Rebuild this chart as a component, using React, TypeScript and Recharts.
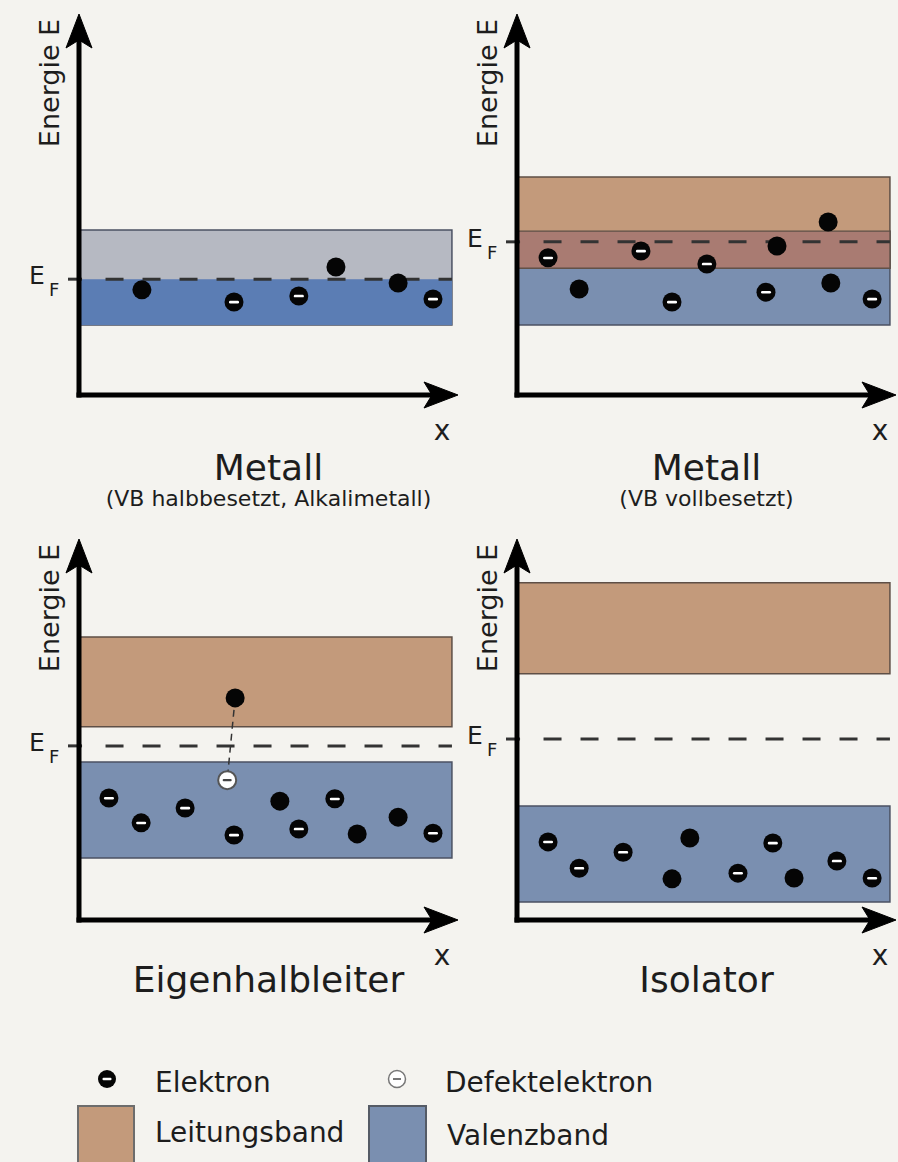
import React from "react";
import {
  ReferenceArea,
  ReferenceLine,
  Scatter,
  ScatterChart,
  XAxis,
  YAxis,
} from "recharts";

type Particle = { x: number; e: number };
type Band = [number, number];

const FONT = '"DejaVu Sans", "Liberation Sans", sans-serif';
const INK = "#1d1d1d";
const PAGE_BG = "#f4f3ef";

const CB_FILL = "#c39a7b";
const VB_FILL = "#7a8fb0";
const VB_FILLED = "#5b7db4";
const VB_EMPTY = "#b6b9c2";
const OVERLAP_FILL = "#a97b72";

// x = Ort (0..10), e = Energie (0..10, willkürliche Einheiten)
const panelTitles = ["Metall", "Metall", "Eigenhalbleiter", "Isolator"];
const panelNotes = ["(VB halbbesetzt, Alkalimetall)", "(VB vollbesetzt)", "", ""];
const fermiLevels = [3.04, 4.02, 4.57, 4.75];
const valenceBands: Band[] = [
  [1.84, 4.33],
  [1.84, 4.3],
  [1.63, 4.15],
  [0.47, 2.99],
];
const conductionBands: (Band | null)[] = [null, [3.33, 5.72], [5.07, 7.43], [6.46, 8.85]];
const bandLength = 9.84;

// electrons drawn with their minus sign
const signedElectrons: Particle[][] = [
  [
    { x: 4.09, e: 2.44 },
    { x: 5.8, e: 2.6 },
    { x: 9.34, e: 2.52 },
  ],
  [
    { x: 0.82, e: 3.6 },
    { x: 3.27, e: 3.78 },
    { x: 4.09, e: 2.44 },
    { x: 5.01, e: 3.44 },
    { x: 6.57, e: 2.7 },
    { x: 9.37, e: 2.52 },
  ],
  [
    { x: 0.79, e: 3.2 },
    { x: 1.64, e: 2.55 },
    { x: 2.8, e: 2.94 },
    { x: 4.09, e: 2.23 },
    { x: 5.8, e: 2.39 },
    { x: 6.75, e: 3.18 },
    { x: 9.34, e: 2.28 },
  ],
  [
    { x: 0.82, e: 2.05 },
    { x: 1.64, e: 1.36 },
    { x: 2.8, e: 1.78 },
    { x: 5.83, e: 1.23 },
    { x: 6.75, e: 2.02 },
    { x: 8.44, e: 1.55 },
    { x: 9.37, e: 1.1 },
  ],
];

// electrons that show up as plain black dots
const plainElectrons: Particle[][] = [
  [
    { x: 1.66, e: 2.76 },
    { x: 6.78, e: 3.36 },
    { x: 8.42, e: 2.94 },
  ],
  [
    { x: 1.64, e: 2.78 },
    { x: 6.86, e: 3.91 },
    { x: 8.21, e: 4.54 },
    { x: 8.28, e: 2.94 },
  ],
  [
    { x: 4.12, e: 5.83 },
    { x: 5.3, e: 3.12 },
    { x: 7.34, e: 2.26 },
    { x: 8.42, e: 2.7 },
  ],
  [
    { x: 4.09, e: 1.08 },
    { x: 4.56, e: 2.15 },
    { x: 7.31, e: 1.1 },
  ],
];

// Eigenhalbleiter: thermisch angeregtes Elektron und zurückbleibendes Loch
const excitedElectron: Particle = { x: 4.12, e: 5.83 };
const holes: Particle[][] = [[], [], [{ x: 3.91, e: 3.67 }], []];

const PLOT_W = 379;
const PLOT_H = 381;
const CHART_W = 460;
const CHART_H = 520;
const MARGIN = {
  top: 14,
  left: 79,
  right: CHART_W - 79 - PLOT_W,
  bottom: CHART_H - 14 - PLOT_H,
};
const panelSpots = [
  { left: 0, top: 0 },
  { left: 438, top: 0 },
  { left: 0, top: 525 },
  { left: 438, top: 525 },
];

function AxisArrow(props: any) {
  const { x1, y1, x2, y2 } = props;
  const dx = x2 - x1;
  const dy = y2 - y1;
  const len = Math.hypot(dx, dy) || 1;
  const ux = dx / len;
  const uy = dy / len;
  const nx = -uy;
  const ny = ux;
  const L = 34;
  const W = 13;
  const notch = 8;
  const bx = x2 - ux * L;
  const by = y2 - uy * L;
  const mx = x2 - ux * (L - notch);
  const my = y2 - uy * (L - notch);
  const head = `M${x2},${y2} L${bx + nx * W},${by + ny * W} L${mx},${my} L${bx - nx * W},${by - ny * W} Z`;
  return (
    <g>
      <line x1={x1} y1={y1} x2={mx} y2={my} stroke="#000" strokeWidth={5} strokeLinecap="square" />
      <path d={head} fill="#000" stroke="#000" strokeWidth={1} strokeLinejoin="round" />
    </g>
  );
}

const electronShape = (signed: boolean) => (p: any) => (
  <g>
    <circle cx={p.cx} cy={p.cy} r={9.5} fill="#050505" />
    {signed && (
      <rect x={p.cx - 5} y={p.cy - 1.2} width={10} height={2.6} rx={1.2} fill="#fff" />
    )}
  </g>
);

const holeShape = (p: any) => (
  <g>
    <circle cx={p.cx} cy={p.cy} r={9} fill="#fff" stroke="#555" strokeWidth={2} />
    <rect x={p.cx - 4.5} y={p.cy - 1.2} width={9} height={2.4} rx={1} fill="#444" />
  </g>
);

const energyLabel = (p: any) => {
  const vb = p.viewBox ?? {};
  return (
    <text
      transform={`translate(${vb.x - 20},${vb.y + 69}) rotate(-90)`}
      textAnchor="middle"
      fontSize={27}
      fontFamily={FONT}
      fill={INK}
    >
      Energie E
    </text>
  );
};

const fermiLabel = (p: any) => {
  const vb = p.viewBox ?? {};
  return (
    <g fontFamily={FONT} fill={INK}>
      <text x={vb.x - 39} y={vb.y + 5} fontSize={25}>
        E
      </text>
      <text x={vb.x - 19} y={vb.y + 17} fontSize={18}>
        F
      </text>
    </g>
  );
};

const xAxisLabel = (title: string, note: string) => (p: any) => {
  const vb = p.viewBox ?? {};
  const center = vb.x + vb.width / 2;
  const tip = vb.x + vb.width;
  return (
    <g fontFamily={FONT} fill={INK} textAnchor="middle">
      <text x={tip - 16} y={vb.y + 45} fontSize={28}>
        x
      </text>
      <text x={center} y={vb.y + (note ? 85 : 72)} fontSize={36}>
        {title}
      </text>
      {note && (
        <text x={center} y={vb.y + 111} fontSize={22}>
          {note}
        </text>
      )}
    </g>
  );
};

function BandPanel({ index }: { index: number }) {
  const vb = valenceBands[index];
  const cb = conductionBands[index];
  const fermi = fermiLevels[index];
  const halfFilled = cb === null;
  const overlap: Band | null =
    cb && Math.max(vb[0], cb[0]) < Math.min(vb[1], cb[1])
      ? [Math.max(vb[0], cb[0]), Math.min(vb[1], cb[1])]
      : null;
  const spot = panelSpots[index];

  return (
    <div style={{ position: "absolute", left: spot.left, top: spot.top }}>
      <ScatterChart width={CHART_W} height={CHART_H} margin={MARGIN}>
        <XAxis type="number" dataKey="x" domain={[0, 10]} hide />
        <YAxis type="number" dataKey="e" domain={[0, 10]} hide />

        <ReferenceArea
          x1={0}
          x2={bandLength}
          y1={vb[0]}
          y2={vb[1]}
          fill={halfFilled ? VB_EMPTY : VB_FILL}
          fillOpacity={1}
          stroke="#4b5263"
          strokeWidth={1.5}
          ifOverflow="visible"
        />
        {halfFilled && (
          <ReferenceArea
            x1={0}
            x2={bandLength}
            y1={vb[0]}
            y2={fermi}
            fill={VB_FILLED}
            fillOpacity={1}
            stroke="none"
            ifOverflow="visible"
          />
        )}
        {cb && (
          <ReferenceArea
            x1={0}
            x2={bandLength}
            y1={cb[0]}
            y2={cb[1]}
            fill={CB_FILL}
            fillOpacity={1}
            stroke="#5e4f46"
            strokeWidth={1.5}
            ifOverflow="visible"
          />
        )}
        {overlap && (
          <ReferenceArea
            x1={0}
            x2={bandLength}
            y1={overlap[0]}
            y2={overlap[1]}
            fill={OVERLAP_FILL}
            fillOpacity={1}
            stroke="#5e4f46"
            strokeWidth={1.2}
            ifOverflow="visible"
          />
        )}

        <ReferenceLine
          segment={[
            { x: -0.29, y: fermi },
            { x: 0.08, y: fermi },
          ]}
          stroke="#333"
          strokeWidth={3}
          ifOverflow="visible"
          label={fermiLabel}
        />
        <ReferenceLine
          segment={[
            { x: 0.7, y: fermi },
            { x: bandLength, y: fermi },
          ]}
          stroke="#333"
          strokeWidth={3}
          strokeDasharray="18 19"
          ifOverflow="visible"
        />

        {holes[index].length > 0 && (
          <ReferenceLine
            segment={[
              { x: excitedElectron.x, y: excitedElectron.e },
              { x: holes[index][0].x, y: holes[index][0].e },
            ]}
            stroke="#333"
            strokeWidth={1.5}
            strokeDasharray="7 5"
            ifOverflow="visible"
          />
        )}

        <ReferenceLine
          segment={[
            { x: 0, y: 0 },
            { x: 0, y: 10 },
          ]}
          shape={AxisArrow}
          ifOverflow="visible"
          label={energyLabel}
        />
        <ReferenceLine
          segment={[
            { x: 0, y: 0 },
            { x: 10, y: 0 },
          ]}
          shape={AxisArrow}
          ifOverflow="visible"
          label={xAxisLabel(panelTitles[index], panelNotes[index])}
        />

        <Scatter
          name="Elektron"
          data={signedElectrons[index]}
          shape={electronShape(true)}
          isAnimationActive={false}
        />
        <Scatter
          name="Elektron (ohne Vorzeichen)"
          data={plainElectrons[index]}
          shape={electronShape(false)}
          isAnimationActive={false}
        />
        <Scatter
          name="Defektelektron"
          data={holes[index]}
          shape={holeShape}
          isAnimationActive={false}
        />
      </ScatterChart>
    </div>
  );
}

function BandLegend() {
  return (
    <svg
      width={898}
      height={122}
      style={{ position: "absolute", left: 0, top: 1040 }}
      fontFamily={FONT}
      fill={INK}
    >
      <circle cx={107} cy={39} r={9} fill="#050505" />
      <rect x={102.5} y={37.8} width={9} height={2.4} rx={1} fill="#fff" />
      <text x={155} y={52} fontSize={28}>
        Elektron
      </text>

      <circle cx={397} cy={39} r={8.5} fill="#fff" stroke="#777" strokeWidth={1.5} />
      <rect x={393} y={38} width={8} height={2} fill="#777" />
      <text x={445} y={52} fontSize={28}>
        Defektelektron
      </text>

      <rect x={78} y={66} width={56} height={70} fill={CB_FILL} stroke="#6d6d6d" strokeWidth={2} />
      <text x={155} y={102} fontSize={28}>
        Leitungsband
      </text>

      <rect x={369} y={66} width={57} height={70} fill={VB_FILL} stroke="#555b66" strokeWidth={2} />
      <text x={447} y={105} fontSize={28}>
        Valenzband
      </text>
    </svg>
  );
}

export default function App() {
  return (
    <div
      style={{
        position: "absolute",
        left: 0,
        top: 0,
        width: 898,
        height: 1162,
        background: PAGE_BG,
        overflow: "hidden",
      }}
    >
      {[0, 1, 2, 3].map((i) => (
        <BandPanel key={i} index={i} />
      ))}
      <BandLegend />
    </div>
  );
}
